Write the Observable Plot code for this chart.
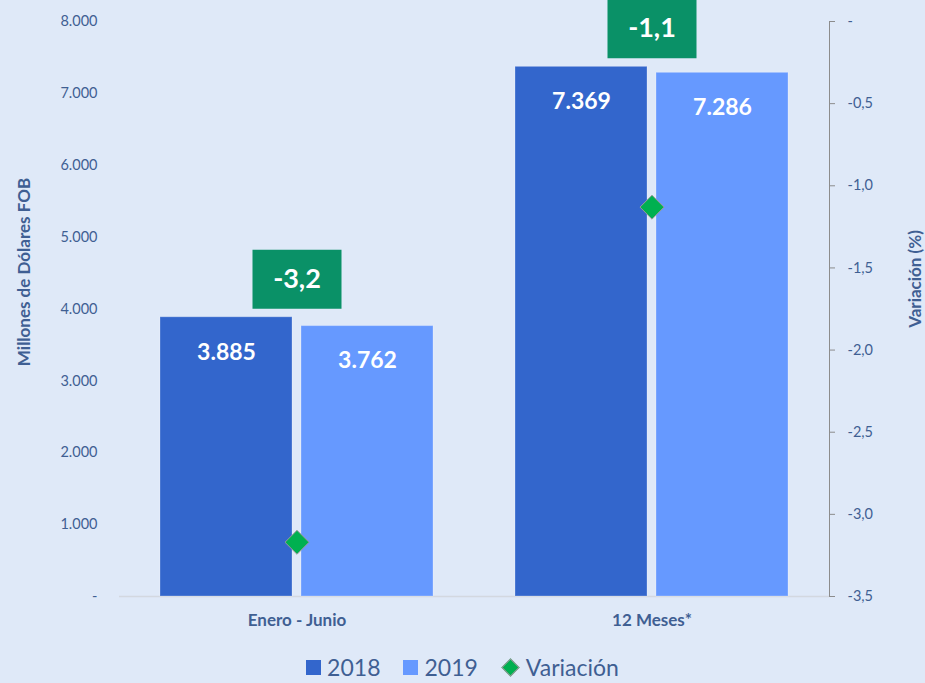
<!DOCTYPE html>
<html><head><meta charset="utf-8">
<script src="https://cdn.jsdelivr.net/npm/d3@7"></script>
<script src="https://cdn.jsdelivr.net/npm/@observablehq/plot@0.6"></script>
<style>
html,body{margin:0;padding:0;background:#dfe9f8;}
#wrap{position:relative;width:925px;height:683px;font-family:Lato, sans-serif;overflow:hidden;}
#legend{position:absolute;left:0;top:654px;width:925px;display:flex;justify-content:center;align-items:center;gap:23px;font-size:23px;line-height:26px;color:#3f5f93;}
#legend .it{display:flex;align-items:center;gap:6px;}
#legend .sw{display:inline-block;width:15px;height:15px;}
#legend .dm{display:inline-block;width:11px;height:11px;background:#00b050;border:1px solid #9a9a9a;transform:rotate(45deg);margin:0 3px;}
</style></head><body><div id="wrap"></div>
<script>
const groups = ["Enero - Junio", "12 Meses*"];
const years = ["2018", "2019"];
const values2018 = [3885, 7369];
const values2019 = [3762, 7286];
const variation = [-3.17, -1.13];
const leftTicks = [0, 1000, 2000, 3000, 4000, 5000, 6000, 7000, 8000];
const rightTicks = [0, -0.5, -1.0, -1.5, -2.0, -2.5, -3.0, -3.5];
const colors = ["#3366cc", "#6699ff"];

const rightMin = -3.5, rightMax = 0, leftMax = 8000;
const toLeft = v => (v - rightMin) / (rightMax - rightMin) * leftMax;
const fromLeft = y => y / leftMax * (rightMax - rightMin) + rightMin;

const locale = d3.formatLocale({decimal: ",", thousands: ".", grouping: [3], currency: ["", ""], minus: "-"});
const fmtInt = locale.format(",d");
const fmt1 = locale.format(".1f");

const bars = groups.flatMap((g, i) => [
  {group: g, year: years[0], value: values2018[i]},
  {group: g, year: years[1], value: values2019[i]}
]);
const vars = groups.map((g, i) => ({group: g, v: variation[i], top: Math.max(values2018[i], values2019[i])}));

const boxSymbol = {draw(ctx) { ctx.moveTo(-44.5, -29.5); ctx.lineTo(44.5, -29.5); ctx.lineTo(44.5, 29.5); ctx.lineTo(-44.5, 29.5); ctx.closePath(); }};

const textColor = "#3f5f93";

const chart = Plot.plot({
  width: 925, height: 650,
  marginTop: 21, marginBottom: 54, marginLeft: 119, marginRight: 96,
  style: {background: "transparent", fontFamily: "Lato, sans-serif", overflow: "visible"},
  fx: {domain: groups, padding: 0, label: null},
  x: {domain: years, paddingInner: 0.064, paddingOuter: 0.29, axis: null},
  y: {domain: [0, leftMax]},
  color: {domain: years, range: colors},
  marks: [
    Plot.ruleY([0], {stroke: "#d3d8e0", strokeWidth: 1.5}),
    Plot.barY(bars, {fx: "group", x: "year", y: "value", fill: "year", stroke: "#ffffff", strokeOpacity: 0.25}),
    Plot.text(bars, {fx: "group", x: "year", y: "value", dy: 35, text: d => fmtInt(d.value), fill: "white", fontWeight: "bold", fontSize: 23}),
    Plot.dot(vars, {fx: "group", y: d => toLeft(d.v), symbol: "diamond2", r: 10.8, fill: "#00b050", stroke: "#9a9a9a", strokeWidth: 1}),
    Plot.dot(vars, {fx: "group", y: "top", dy: -38, symbol: boxSymbol, r: 1, fill: "#0a9167"}),
    Plot.text(vars, {fx: "group", y: "top", dy: -38, text: d => fmt1(d.v), fill: "white", fontWeight: "bold", fontSize: 27}),
    Plot.axisY(leftTicks, {anchor: "left", tickSize: 0, tickPadding: 22, fill: textColor, fontSize: 14.5,
      tickFormat: d => d === 0 ? "-" : fmtInt(d), label: null}),
    Plot.axisY(rightTicks.map(toLeft), {anchor: "right", tickSize: 5, tickPadding: 13, stroke: "#8c8c8c", fill: textColor, fontSize: 14.5,
      tickFormat: d => { const v = fromLeft(d); return Math.abs(v) < 1e-9 ? "-" : fmt1(v); }, label: null}),
    Plot.frame({anchor: "right", facetAnchor: "right", stroke: "#8c8c8c"}),
    Plot.axisFx({anchor: "bottom", tickSize: 0, tickPadding: 17, fontWeight: "bold", fontSize: 17, fill: textColor, label: null}),
    Plot.text([{group: groups[0]}], {fx: "group", frameAnchor: "left", textAnchor: "middle", dx: -95, dy: -37, rotate: -90, text: () => "Millones de Dólares FOB", fontWeight: "bold", fontSize: 17, fill: textColor}),
    Plot.text([{group: groups[1]}], {fx: "group", frameAnchor: "right", textAnchor: "middle", dx: 86, dy: -30, rotate: -90, text: () => "Variación (%)", fontWeight: "bold", fontSize: 17, fill: textColor})
  ]
});

const wrap = document.getElementById("wrap");
wrap.appendChild(chart);
const legend = document.createElement("div");
legend.id = "legend";
legend.innerHTML =
  `<span class="it"><span class="sw" style="background:${colors[0]}"></span>${years[0]}</span>` +
  `<span class="it"><span class="sw" style="background:${colors[1]}"></span>${years[1]}</span>` +
  `<span class="it"><span class="dm"></span>Variación</span>`;
wrap.appendChild(legend);
</script>
</body></html>
